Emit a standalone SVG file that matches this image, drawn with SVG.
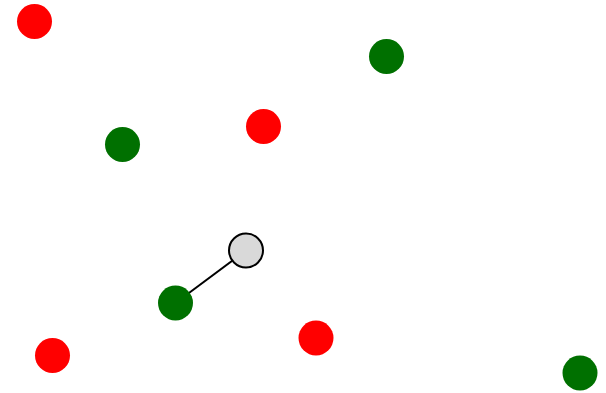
<svg xmlns="http://www.w3.org/2000/svg" width="606" height="393" viewBox="0 0 606 393">
<style>
.red{fill:#ff0000}
.green{fill:#007000}
.gray{fill:#d9d9d9;stroke:#000;stroke-width:2}
.edge{stroke:#000;stroke-width:2;fill:none}
</style>
<rect width="606" height="393" fill="#fff"/>
<g id="connectors">
<line class="edge" x1="246" y1="250.5" x2="175.5" y2="303"/>
</g>
<g id="n1"><circle class="red" cx="34.5" cy="21.5" r="17.5"/></g>
<g id="n2"><circle class="red" cx="263.5" cy="126.5" r="17.5"/></g>
<g id="n3"><circle class="red" cx="52.5" cy="355.5" r="17.5"/></g>
<g id="n4"><circle class="red" cx="316" cy="338" r="17.5"/></g>
<g id="n5"><circle class="green" cx="386.5" cy="56.5" r="17.5"/></g>
<g id="n6"><circle class="green" cx="122.5" cy="144.5" r="17.5"/></g>
<g id="n7"><circle class="green" cx="175.5" cy="303" r="17.5"/></g>
<g id="n8"><circle class="green" cx="580" cy="373" r="17.5"/></g>
<g id="n9"><circle class="gray" cx="246" cy="250.5" r="17"/></g>
</svg>
